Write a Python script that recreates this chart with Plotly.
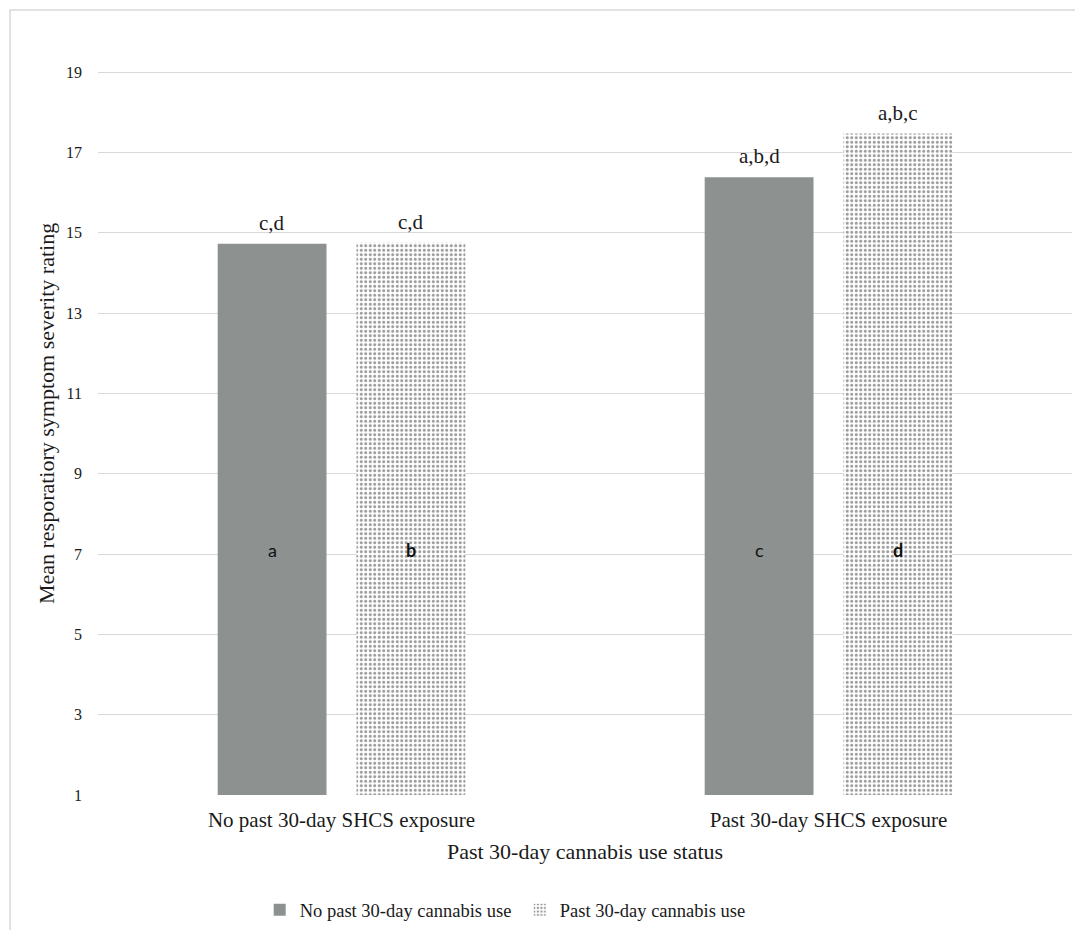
import plotly.graph_objects as go

categories = ["No past 30-day SHCS exposure", "Past 30-day SHCS exposure"]
series_names = ["No past 30-day cannabis use", "Past 30-day cannabis use"]
no_cannabis = [14.73, 16.38]
cannabis = [14.75, 17.47]
top_labels_no = ["c,d", "a,b,d"]
top_labels_yes = ["c,d", "a,b,c"]
inner_labels_no = ["a", "c"]
inner_labels_yes = ["<b>b</b>", "<b>d</b>"]
inner_label_y = 7.1
y_ticks = [1, 3, 5, 7, 9, 11, 13, 15, 17, 19]
axis_min = 1

serif = "Liberation Serif, Times New Roman, serif"
gray = "#8d9291"
txt = "#1a1a1a"

fig = go.Figure()
fig.add_trace(go.Bar(
    name=series_names[0], x=categories, y=[v - axis_min for v in no_cannabis], base=axis_min,
    marker=dict(color=gray, line=dict(width=0)),
))
fig.add_trace(go.Bar(
    name=series_names[1], x=categories, y=[v - axis_min for v in cannabis], base=axis_min,
    marker=dict(color="white", line=dict(width=0),
                pattern=dict(shape=".", fgcolor="#333333", bgcolor="white",
                             size=4.5, solidity=0.35)),
))

annotations = []
for i, cat in enumerate(categories):
    for vals, tops, inners, shift in [
        (no_cannabis, top_labels_no, inner_labels_no, -69.5),
        (cannabis, top_labels_yes, inner_labels_yes, 69.5),
    ]:
        annotations.append(dict(
            x=cat, y=vals[i], text=tops[i], showarrow=False, xshift=shift,
            yanchor="middle", yshift=21,
            font=dict(family=serif, size=21, color=txt)))
        annotations.append(dict(
            x=cat, y=inner_label_y, text=inners[i], showarrow=False, xshift=shift,
            yanchor="middle",
            font=dict(family="Lato, Open Sans, sans-serif", size=18, color="#111111")))

fig.update_layout(
    width=1075, height=922,
    margin=dict(l=90, r=11, t=24, b=135, autoexpand=False),
    paper_bgcolor="white", plot_bgcolor="white",
    barmode="group", bargap=0.43, bargroupgap=0.216,
    font=dict(family=serif, color=txt),
    showlegend=True,
    legend=dict(orientation="h", x=0.166, xanchor="left", y=-0.151, yanchor="middle",
                font=dict(family=serif, size=18.5, color=txt),
                itemwidth=30, traceorder="normal",
                entrywidth=215, entrywidthmode="pixels"),
    annotations=annotations,
    shapes=[dict(type="rect", xref="paper", yref="paper",
                 x0=-0.0903, x1=1.03, y0=-0.2, y1=1.0288,
                 line=dict(color="#d9d9d9", width=1.5), fillcolor="rgba(0,0,0,0)",
                 layer="below")],
)
fig.update_xaxes(
    showgrid=False, showline=False, ticks="", automargin=False,
    tickfont=dict(family=serif, size=21, color=txt), ticklabelstandoff=10,
    title=dict(text="Past 30-day cannabis use status", standoff=12,
               font=dict(family=serif, size=22, color=txt)),
)
fig.update_yaxes(
    range=[axis_min, 20], tickvals=y_ticks, showgrid=True, gridcolor="#d9d9d9", gridwidth=1,
    zeroline=False, showline=False, ticks="", ticklabelstandoff=15, automargin=False,
    tickfont=dict(family=serif, size=16, color=txt),
    title=dict(text="Mean resporatiory symptom severity rating", standoff=5,
               font=dict(family=serif, size=22, color=txt)),
)

fig.write_html("out.html")
